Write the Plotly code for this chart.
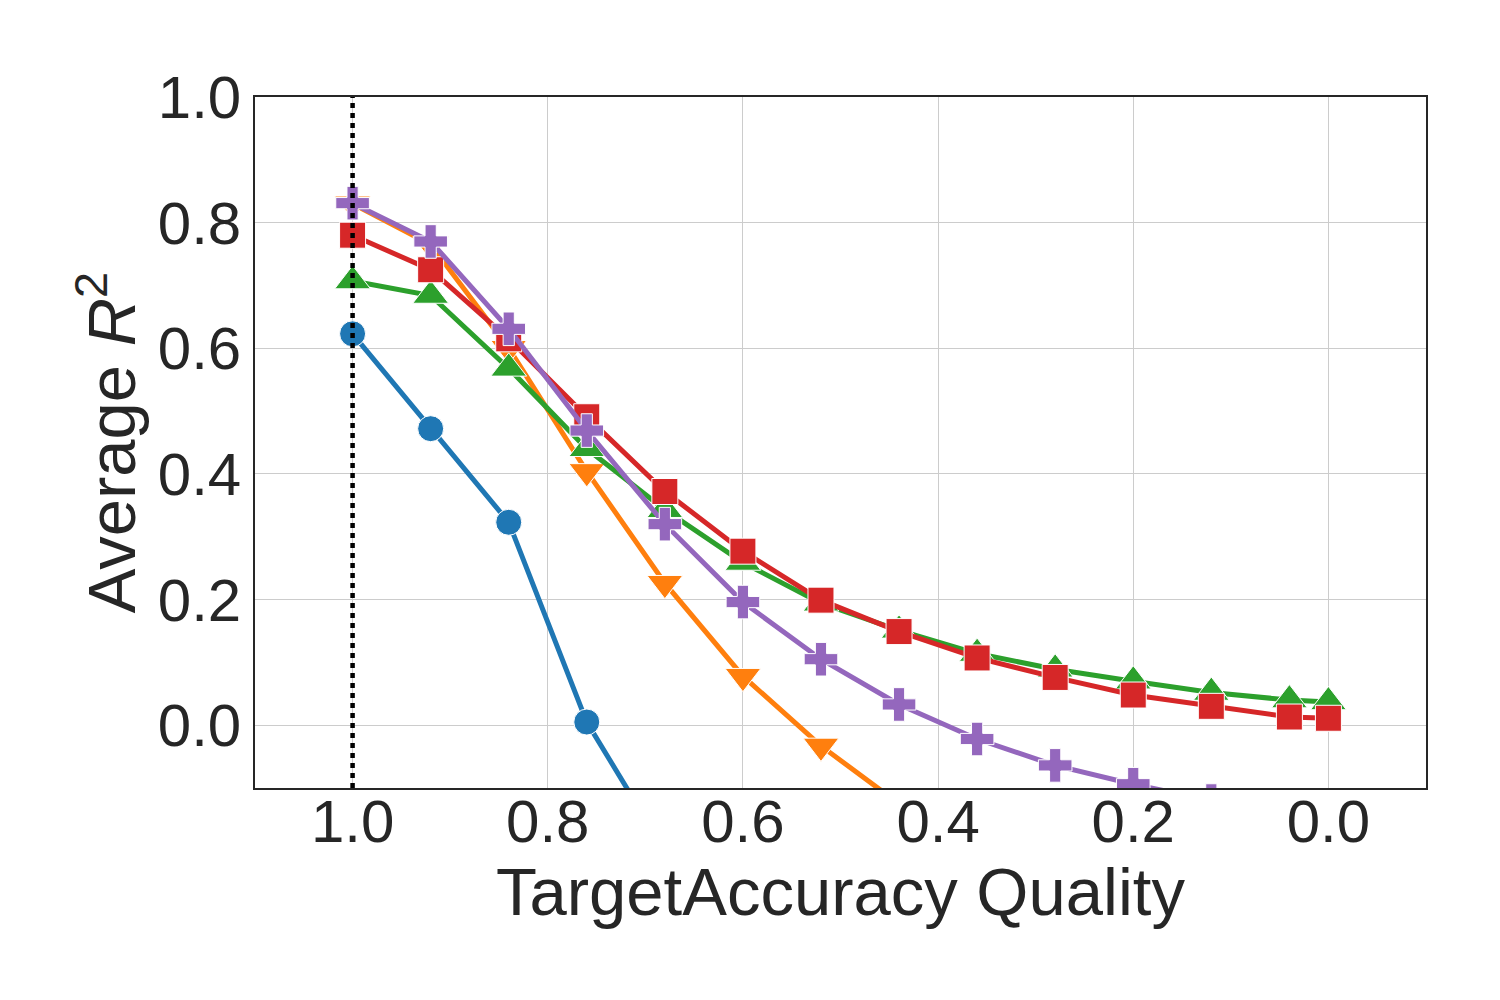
import plotly.graph_objects as go

x_vals = [1.0, 0.92, 0.84, 0.76, 0.68, 0.60, 0.52, 0.44, 0.36, 0.28, 0.20, 0.12, 0.04, 0.0]

blue = [0.623, 0.472, 0.323, 0.005, -0.20]
orange = [0.830, 0.765, 0.600, 0.404, 0.226, 0.078, -0.033, -0.125]
green = [0.707, 0.684, 0.568, 0.440, 0.343, 0.259, 0.194, 0.151, 0.114, 0.089, 0.070, 0.052, 0.040, 0.037]
red = [0.780, 0.725, 0.615, 0.491, 0.372, 0.277, 0.199, 0.149, 0.107, 0.076, 0.048, 0.030, 0.013, 0.011]
purple = [0.831, 0.770, 0.631, 0.469, 0.320, 0.196, 0.105, 0.033, -0.022, -0.064, -0.094, -0.12]

tick_vals = [1.0, 0.8, 0.6, 0.4, 0.2, 0.0]
tick_text = ["1.0", "0.8", "0.6", "0.4", "0.2", "0.0"]

series = [
    (blue, "#1f77b4", "circle", 26),
    (orange, "#ff7f0e", "triangle-down", 31),
    (green, "#2ca02c", "triangle-up", 31),
    (red, "#d62728", "square", 26),
    (purple, "#9467bd", "cross", 28),
]

fig = go.Figure()
for vals, color, sym, sz in series:
    fig.add_trace(go.Scatter(
        x=x_vals[:len(vals)], y=vals, mode="lines+markers",
        line=dict(color=color, width=5),
        marker=dict(symbol=sym, size=sz, color=color, line=dict(color="white", width=1)),
        showlegend=False, cliponaxis=True,
    ))

fig.add_shape(type="line", x0=1.0, x1=1.0, y0=0, y1=1, xref="x", yref="paper",
              line=dict(color="black", width=4.5, dash="5px,5px"))

FONT = "Liberation Sans, Arial, sans-serif"
axis_font = dict(family=FONT, size=60, color="#262626")
fig.update_layout(
    width=1500, height=1000,
    paper_bgcolor="white", plot_bgcolor="white",
    margin=dict(l=247, r=82, t=89, b=220),
    font=dict(family=FONT, color="#262626"),
)
fig.add_annotation(
    text="TargetAccuracy Quality", xref="paper", yref="paper", x=0.5, y=0,
    yshift=-64, yanchor="top", showarrow=False,
    font=dict(size=67, family=FONT, color="#262626"),
)
fig.update_xaxes(
    range=[1.1, -0.1], tickvals=tick_vals, ticktext=tick_text,
    tickfont=axis_font, showgrid=True, gridcolor="#cccccc", gridwidth=1,
    showline=True, linecolor="#262626", linewidth=1.5, mirror=True, zeroline=False,
    ticks="", ticklen=0, ticklabelstandoff=-20,
)
fig.update_yaxes(
    range=[-0.1, 1.0], tickvals=tick_vals, ticktext=tick_text,
    tickfont=axis_font, showgrid=True, gridcolor="#cccccc", gridwidth=1,
    showline=True, linecolor="#262626", linewidth=1.5, mirror=True, zeroline=False,
    ticks="", ticklen=0,
    title=dict(text="Average <i>R</i><sup>2</sup>", font=dict(size=67, family=FONT, color="#262626"), standoff=0),
)

fig.write_html("out.html")
